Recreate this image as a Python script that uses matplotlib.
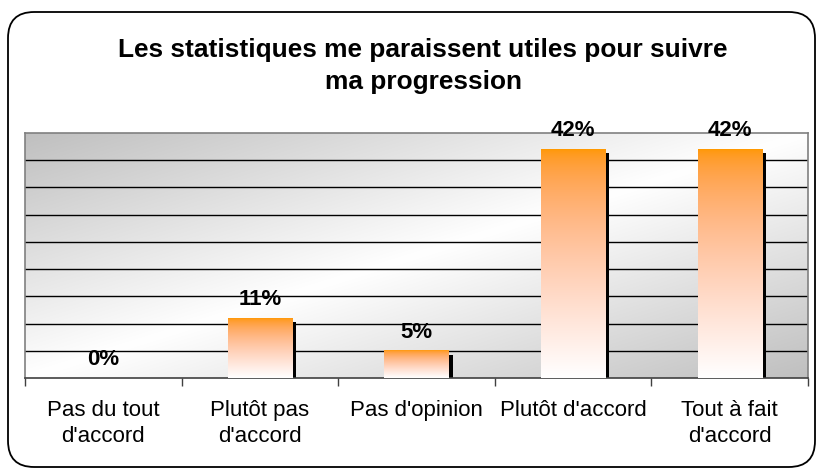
import matplotlib
matplotlib.use("Agg")
import matplotlib.pyplot as plt
import numpy as np
from matplotlib.patches import FancyBboxPatch

plt.rcParams['font.family'] = ['Liberation Sans', 'DejaVu Sans']

# data
categories = ["Pas du tout\nd'accord", "Plutôt pas\nd'accord", "Pas d'opinion",
              "Plutôt d'accord", "Tout à fait\nd'accord"]
values = [0, 11, 5, 42, 42]
value_labels = ["0%", "11%", "5%", "42%", "42%"]
title = "Les statistiques me paraissent utiles pour suivre\nma progression"

W, H = 817, 470
fig = plt.figure(figsize=(W / 100, H / 100), dpi=100)
fig.patch.set_facecolor("white")

# rounded frame around the whole chart
frame = FancyBboxPatch((8 / W, 3 / H), 807 / W, 455 / H,
                       boxstyle="round,pad=0,rounding_size=0.032",
                       transform=fig.transFigure, facecolor="none",
                       edgecolor="black", linewidth=1.3, mutation_aspect=W / H,
                       zorder=-1)
fig.patches.append(frame)

ax = fig.add_axes([25 / W, (H - 378) / H, (808 - 25) / W, (378 - 133) / H])
ax.set_facecolor("none")
ymax = 45
ax.set_xlim(0, len(categories))
ax.set_ylim(0, ymax)

# diagonal gray -> white -> gray background
ny, nx = 200, 400
u = np.linspace(0, 1, nx)[None, :]
v = np.linspace(0, 1, ny)[:, None]
t = (u + v) / 2
shade = 0.75 + 0.25 * (1 - np.abs(t - 0.5) * 2)
bg = np.dstack([shade, shade, shade])
ax.imshow(bg, extent=(0, 1, 0, 1), transform=ax.transAxes, aspect="auto",
          zorder=0, interpolation="bilinear")

# grid lines
for g in range(5, ymax, 5):
    ax.axhline(g, color="black", linewidth=1.0, zorder=1)

# bars with vertical orange gradient
bar_w = 0.41
px_x = len(categories) / 783.0
px_y = ymax / 245.0
shadow_w = 4 * px_x
shadow_off = 4 * px_y
tt = np.linspace(0, 1, 256)[:, None]  # 0 = top, 1 = bottom
grad = np.dstack([np.ones_like(tt),
                  (153 + 102 * tt) / 255,
                  np.clip(tt, 0, 1) ** 0.55])
for i, val in enumerate(values):
    cx = i + 0.5
    if val > 0:
        ax.bar(cx + bar_w / 2 + shadow_w / 2, val - shadow_off, width=shadow_w,
               color="black", zorder=2)
        ax.imshow(grad, extent=(cx - bar_w / 2, cx + bar_w / 2, 0, val),
                  aspect="auto", zorder=3, interpolation="bilinear")
    ax.text(cx, val + 13 * px_y, value_labels[i], ha="center", va="baseline",
            fontsize=16, fontweight="bold", zorder=4)

ax.set_xlim(0, len(categories))
ax.set_ylim(0, ymax)

# axes styling
for side in ["left", "top", "right"]:
    ax.spines[side].set_color("#808080")
    ax.spines[side].set_linewidth(1.2)
ax.spines["bottom"].set_color("#404040")
ax.spines["bottom"].set_linewidth(1.2)
ax.set_yticks([])
ax.set_xticks(range(len(categories) + 1))
ax.set_xticklabels([])
ax.set_xticks([i + 0.5 for i in range(len(categories))], minor=True)
ax.set_xticklabels(categories, minor=True, fontsize=16, linespacing=1.3)
ax.tick_params(axis="x", which="major", direction="out", length=6,
               color="#404040", width=1)
ax.tick_params(axis="x", which="minor", length=0, pad=16)

fig.text(0.518, (H - 66) / H, title, ha="center", va="center",
         fontsize=18.9, fontweight="bold", linespacing=1.38)

fig.savefig("out.png", dpi=100, facecolor="white")
